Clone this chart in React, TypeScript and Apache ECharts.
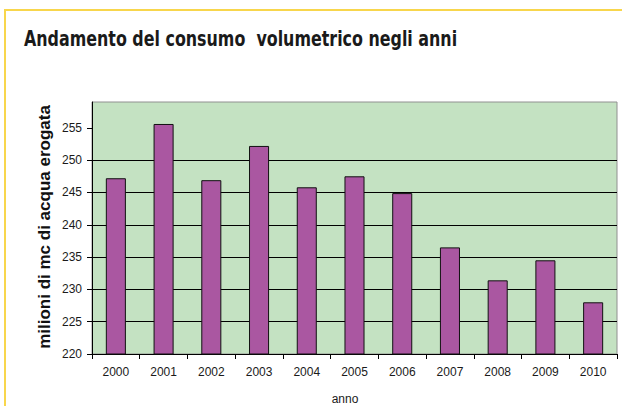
import React, { useEffect, useRef } from "react";
import * as echarts from "echarts";

const years = ["2000", "2001", "2002", "2003", "2004", "2005", "2006", "2007", "2008", "2009", "2010"];
const consumo = [247.2, 255.6, 246.9, 252.2, 245.8, 247.5, 244.9, 236.5, 231.4, 234.5, 228.0];
const yTicks = [220, 225, 230, 235, 240, 245, 250, 255];
const titleText = "Andamento del consumo  volumetrico negli anni";
const yName = "milioni di mc di acqua erogata";
const xName = "anno";

export default function App() {
  const ref = useRef<HTMLDivElement>(null);
  useEffect(() => {
    document.body.style.margin = "0";
    const chart = echarts.init(ref.current!, null, { renderer: "svg" });
    chart.setOption({
      animation: false,
      backgroundColor: "#ffffff",
      grid: {
        left: 92,
        right: 5,
        top: 102,
        bottom: 52,
        show: true,
        backgroundColor: "#c4e2c2",
        borderColor: "#909090",
        borderWidth: 1,
      },
      xAxis: {
        type: "category",
        data: years,
        boundaryGap: true,
        axisLine: { lineStyle: { color: "#000", width: 1 } },
        axisTick: { show: true, alignWithLabel: false, length: 5, lineStyle: { color: "#000" } },
        axisLabel: { color: "#1a1a1a", fontSize: 12, fontFamily: "Liberation Sans, Arial, sans-serif", margin: 12 },
        splitLine: { show: false },
      },
      yAxis: {
        type: "value",
        min: 220,
        max: 259,
        interval: 5,
        axisLine: { show: true, lineStyle: { color: "#000", width: 1 } },
        axisTick: { show: true, length: 5, lineStyle: { color: "#000" }, customValues: yTicks },
        axisLabel: {
          color: "#1a1a1a",
          fontSize: 12,
          fontFamily: "Liberation Sans, Arial, sans-serif",
          margin: 10,
          customValues: yTicks,
        },
        splitLine: { show: true, showMaxLine: false, lineStyle: { color: "#000", width: 1 } },
      },
      series: [
        {
          type: "bar",
          data: consumo,
          barWidth: "42%",
          itemStyle: { color: "#aa57a1", borderColor: "#111", borderWidth: 1 },
        },
      ],
      graphic: [
        { type: "line", shape: { x1: 4, y1: 10, x2: 622, y2: 10 }, style: { stroke: "#f8d64c", lineWidth: 2 } },
        { type: "line", shape: { x1: 5, y1: 10, x2: 5, y2: 406 }, style: { stroke: "#f8d64c", lineWidth: 2 } },
        {
          type: "text",
          x: 24,
          y: 27,
          scaleX: 0.803,
          style: {
            text: titleText,
            fill: "#1a1a1a",
            font: "bold 22px 'Liberation Sans Narrow', 'DejaVu Sans Condensed', 'Arial Narrow', sans-serif",
          },
        },
        {
          type: "text",
          x: 44,
          y: 227,
          rotation: Math.PI / 2,
          style: {
            text: yName,
            fill: "#111",
            font: "bold 17px 'Liberation Sans', Arial, sans-serif",
            align: "center",
            verticalAlign: "middle",
          },
        },
        {
          type: "text",
          x: 345,
          y: 399,
          style: {
            text: xName,
            fill: "#1a1a1a",
            font: "12px 'Liberation Sans', Arial, sans-serif",
            align: "center",
            verticalAlign: "middle",
          },
        },
      ],
    });
    return () => chart.dispose();
  }, []);
  return <div ref={ref} style={{ width: 622, height: 406, position: "absolute", left: 0, top: 0 }} />;
}
